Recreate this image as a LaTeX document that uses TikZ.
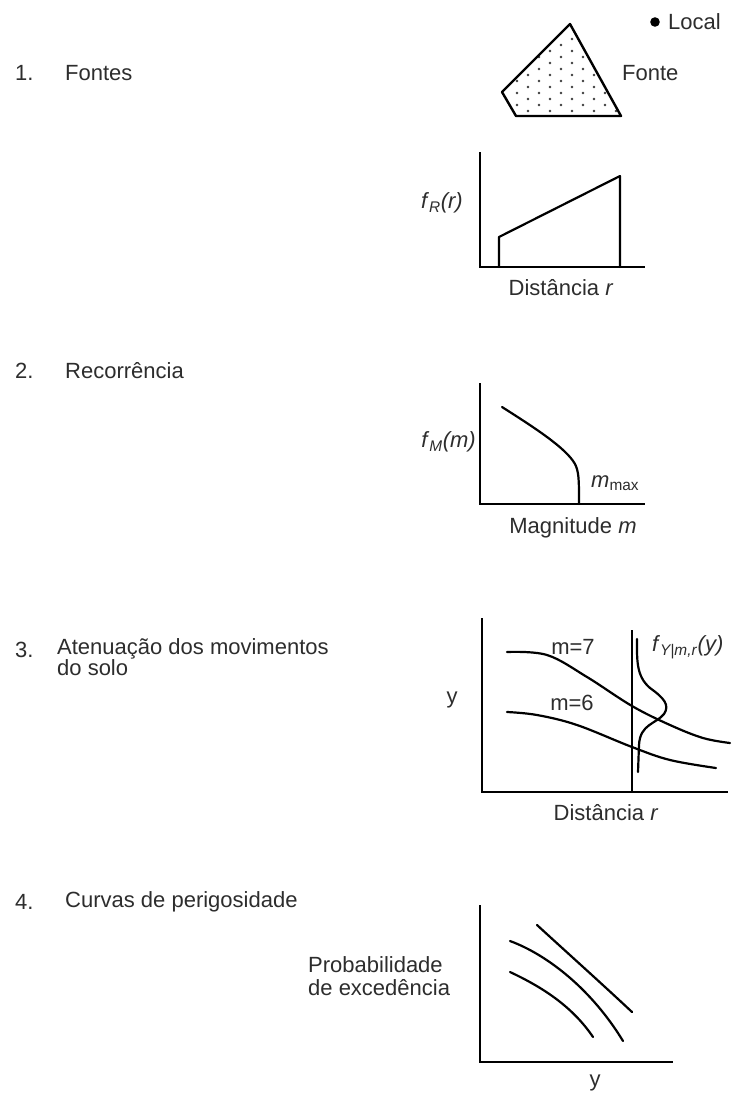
\documentclass[tikz,border=0pt]{standalone}
\usepackage{fontspec}
\setmainfont{Liberation Sans}
\definecolor{textc}{RGB}{45,45,45}
\definecolor{dotc}{RGB}{60,60,60}
\begin{document}
\begin{tikzpicture}[x=1pt,y=-1pt,
  lbl/.style={font=\fontsize{22}{23}\selectfont, text=textc, inner sep=0pt},
  axisline/.style={line width=2.4pt, black},
  crv/.style={line width=2.2pt, black, line join=round, line cap=round}]
\useasboundingbox[fill=white] (0,0) rectangle (747,1097);

% ---------- 1. Fontes ----------
\node[lbl, anchor=west] (n1) at (15,73) {1.};
\node[lbl, anchor=west] (t1) at (65,73) {Fontes};
\fill[black] (655,22) circle (4.8pt);
\node[lbl, anchor=west] (local) at (668,22) {Local};
\node[lbl, anchor=west] (fonte) at (622,73) {Fonte};
\begin{scope}
  \clip (570,24) -- (502,92) -- (516,116) -- (621,116) -- cycle;
  \foreach \j in {0,...,16}{
    \pgfmathsetmacro\yy{27+6*\j}
    \pgfmathsetmacro\off{mod(\j,2)*11}
    \foreach \i in {0,...,6}{
      \fill[dotc] (484+\off+22*\i,\yy) circle (1.4pt);
    }
  }
\end{scope}
\draw[crv, line width=2.4pt, line cap=butt] (570,24) -- (502,92) -- (516,116) -- (621,116) -- cycle;

% f_R(r) plot
\draw[axisline] (480,152) -- (480,267) -- (645,267);
\draw[crv] (499,267) -- (499,237) -- (620,176) -- (620,267);
\node[lbl, anchor=east] (fr) at (463,203) {\textit{f}\textsubscript{\textit{R}}\textit{(r)}};
\node[lbl] (dist1) at (561,288) {Distância \textit{r}};

% ---------- 2. Recorrência ----------
\node[lbl, anchor=west] (n2) at (15,371) {2.};
\node[lbl, anchor=west] (t2) at (65,371) {Recorrência};
\draw[axisline] (480,383) -- (480,504) -- (645,504);
\draw[crv] (502,407) .. controls (535,428) and (566,448) .. (575,464) .. controls (579,472) and (579,480) .. (579,504);
\node[lbl, anchor=east] (fm) at (476,442) {\textit{f}\textsubscript{\textit{M}}\textit{(m)}};
\node[lbl, anchor=west] (mmax) at (591,483) {\textit{m}\textsubscript{max}};
\node[lbl] (mag) at (573,528) {Magnitude \textit{m}};

% ---------- 3. Atenuação ----------
\node[lbl, anchor=west] (n3) at (15,650) {3.};
\node[lbl, anchor=west] (t3a) at (57,649) {Atenuação dos movimentos};
\node[lbl, anchor=west] (t3b) at (57,668) {do solo};
\draw[axisline] (482,618) -- (482,792) -- (728,792);
\draw[axisline] (632,630) -- (632,792);
\draw[crv] plot[smooth, tension=0.6] coordinates {(507,652) (547,655) (587,677) (632,706) (670,725) (703,738) (730,743)};
\draw[crv] plot[smooth, tension=0.6] coordinates {(507,712) (537,715) (577,725) (632,747) (670,760) (716,768)};
\draw[crv] (637,639) .. controls (637,660) and (636,676) .. (650,688)
  .. controls (664,698) and (670,705) .. (664,714)
  .. controls (656,724) and (640,724) .. (639,745) -- (638,772);
\node[lbl] (m7) at (573,647) {m=7};
\node[lbl] (m6) at (572,703) {m=6};
\node[lbl, anchor=west] (fy) at (652,647) {\textit{f}\textsubscript{\textit{Y|m,r}}\textit{(y)}};
\node[lbl] (ylab) at (452,700) {y};
\node[lbl] (dist2) at (606,813) {Distância \textit{r}};

% ---------- 4. Curvas de perigosidade ----------
\node[lbl, anchor=west] (n4) at (15,902) {4.};
\node[lbl, anchor=west] (t4) at (65,902) {Curvas de perigosidade};
\draw[axisline] (480,905) -- (480,1062) -- (673,1062);
\draw[crv] (537,925) .. controls (562,948) and (600,982) .. (632,1012);
\draw[crv] (510,941) .. controls (548,955) and (592,990) .. (623,1041);
\draw[crv] (510,972) .. controls (542,987) and (572,1006) .. (593,1037);
\node[lbl, anchor=west, align=left] (prob) at (308,976) {Probabilidade\\de excedência};
\node[lbl] (ylab2) at (595,1083) {y};
\end{tikzpicture}
\end{document}
